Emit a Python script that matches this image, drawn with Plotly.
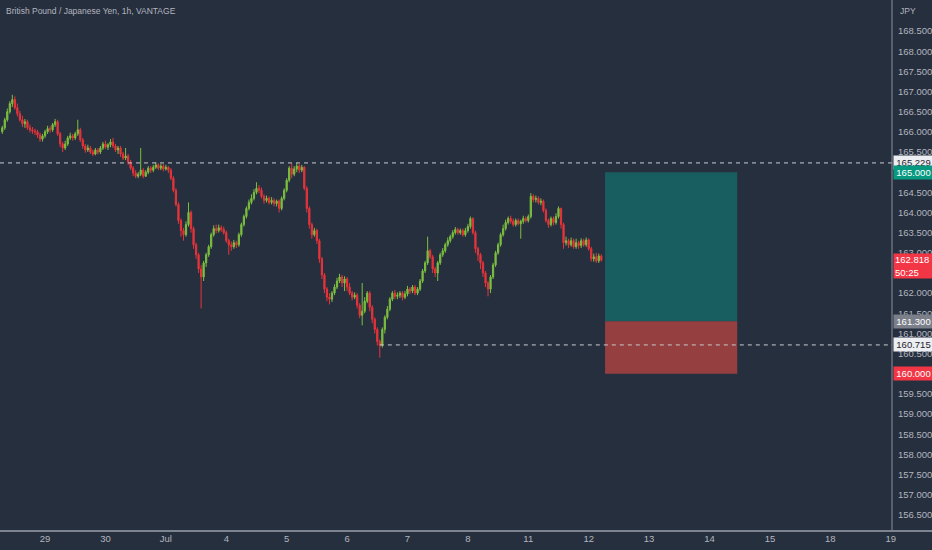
import plotly.graph_objects as go

BG = "#262f3e"
TEXT = "#b2b5be"
UP = "#7cbf3f"
DOWN = "#e8343b"
FONT = "Liberation Sans, Arial, sans-serif"

# hourly bars, index 0 = 29 Jun 00:00
bars = list(range(-17, 222))

opens = [
    166.00, 166.10, 166.30, 166.50, 166.70, 166.80, 166.60, 166.45, 166.30, 166.20,
    166.25, 166.10, 166.05, 166.02, 166.00, 165.92, 165.82, 165.90, 166.00, 166.08,
    166.05, 166.18, 166.25, 165.95, 165.70, 165.60, 165.70, 165.85, 165.90, 165.85,
    165.95, 166.05, 165.80, 165.65, 165.55, 165.60, 165.50, 165.45, 165.55, 165.50,
    165.60, 165.70, 165.62, 165.68, 165.75, 165.65, 165.55, 165.60, 165.45, 165.35,
    165.40, 165.25, 165.10, 164.98, 164.90, 164.95, 165.05, 164.90, 165.00, 165.10,
    165.05, 165.12, 165.18, 165.10, 165.15, 165.08, 165.12, 165.05, 164.85, 164.55,
    164.20, 163.80, 163.55, 163.45, 163.70, 164.00, 163.60, 163.20, 162.95, 162.60,
    162.40, 162.75, 162.95, 163.15, 163.45, 163.60, 163.55, 163.62, 163.58, 163.50,
    163.30, 163.20, 163.15, 163.25, 163.20, 163.45, 163.70, 163.90, 164.10, 164.25,
    164.35, 164.50, 164.60, 164.55, 164.40, 164.30, 164.35, 164.25, 164.30, 164.22,
    164.28, 164.10, 164.35, 164.55, 164.80, 165.10, 164.95, 165.08, 165.15, 165.05,
    165.12, 164.60, 164.10, 163.70, 163.45, 163.55, 163.30, 162.85, 162.45, 162.10,
    161.90, 161.85, 162.00, 162.15, 162.30, 162.40, 162.25, 162.35, 162.15, 162.00,
    161.90, 161.95, 161.70, 161.45, 161.55, 161.80, 162.00, 161.65, 161.35, 161.10,
    160.80, 160.70, 161.10, 161.40, 161.60, 161.85, 162.00, 161.92, 161.95, 162.00,
    161.90, 161.98, 162.10, 162.05, 162.15, 162.00, 162.10, 162.30, 162.55, 162.75,
    163.05, 162.90, 162.60, 162.50, 162.75, 162.95, 163.05, 163.20, 163.30, 163.40,
    163.50, 163.58, 163.50, 163.55, 163.45, 163.55, 163.65, 163.85, 163.50, 163.10,
    162.95, 162.75, 162.50, 162.25, 162.10, 162.40, 162.70, 163.00, 163.20, 163.45,
    163.60, 163.75, 163.85, 163.78, 163.70, 163.80, 163.72, 163.78, 163.85, 163.80,
    163.90, 164.40, 164.32, 164.35, 164.25, 164.28, 164.05, 163.80, 163.70, 163.85,
    163.75, 163.90, 164.10, 163.70, 163.25, 163.30, 163.20, 163.30, 163.15, 163.25,
    163.18, 163.30, 163.20, 163.32, 163.10, 162.85, 162.90, 162.80, 162.92,
]

closes = [
    166.10, 166.30, 166.50, 166.70, 166.80, 166.60, 166.45, 166.30, 166.20, 166.25,
    166.10, 166.05, 166.02, 166.00, 165.92, 165.82, 165.90, 166.00, 166.08, 166.05,
    166.18, 166.25, 165.95, 165.70, 165.60, 165.70, 165.85, 165.90, 165.85, 165.95,
    166.05, 165.80, 165.65, 165.55, 165.60, 165.50, 165.45, 165.55, 165.50, 165.60,
    165.70, 165.62, 165.68, 165.75, 165.65, 165.55, 165.60, 165.45, 165.35, 165.40,
    165.25, 165.10, 164.98, 164.90, 164.95, 165.05, 164.90, 165.00, 165.10, 165.05,
    165.12, 165.18, 165.10, 165.15, 165.08, 165.12, 165.05, 164.85, 164.55, 164.20,
    163.80, 163.55, 163.45, 163.70, 164.00, 163.60, 163.20, 162.95, 162.60, 162.40,
    162.75, 162.95, 163.15, 163.45, 163.60, 163.55, 163.62, 163.58, 163.50, 163.30,
    163.20, 163.15, 163.25, 163.20, 163.45, 163.70, 163.90, 164.10, 164.25, 164.35,
    164.50, 164.60, 164.55, 164.40, 164.30, 164.35, 164.25, 164.30, 164.22, 164.28,
    164.10, 164.35, 164.55, 164.80, 165.10, 164.95, 165.08, 165.15, 165.05, 165.12,
    164.60, 164.10, 163.70, 163.45, 163.55, 163.30, 162.85, 162.45, 162.10, 161.90,
    161.85, 162.00, 162.15, 162.30, 162.40, 162.25, 162.35, 162.15, 162.00, 161.90,
    161.95, 161.70, 161.45, 161.55, 161.80, 162.00, 161.65, 161.35, 161.10, 160.80,
    160.70, 161.10, 161.40, 161.60, 161.85, 162.00, 161.92, 161.95, 162.00, 161.90,
    161.98, 162.10, 162.05, 162.15, 162.00, 162.10, 162.30, 162.55, 162.75, 163.05,
    162.90, 162.60, 162.50, 162.75, 162.95, 163.05, 163.20, 163.30, 163.40, 163.50,
    163.58, 163.50, 163.55, 163.45, 163.55, 163.65, 163.85, 163.50, 163.10, 162.95,
    162.75, 162.50, 162.25, 162.10, 162.40, 162.70, 163.00, 163.20, 163.45, 163.60,
    163.75, 163.85, 163.78, 163.70, 163.80, 163.72, 163.78, 163.85, 163.80, 163.90,
    164.40, 164.32, 164.35, 164.25, 164.28, 164.05, 163.80, 163.70, 163.85, 163.75,
    163.90, 164.10, 163.70, 163.25, 163.30, 163.20, 163.30, 163.15, 163.25, 163.18,
    163.30, 163.20, 163.32, 163.10, 162.85, 162.90, 162.80, 162.92, 162.82,
]

highs = [
    166.15, 166.35, 166.58, 166.76, 166.92, 166.88, 166.70, 166.52, 166.40, 166.32,
    166.30, 166.18, 166.12, 166.08, 166.05, 165.98, 165.95, 166.05, 166.15, 166.15,
    166.22, 166.32, 166.30, 166.00, 165.75, 165.78, 165.90, 165.98, 165.95, 166.00,
    166.30, 166.10, 165.85, 165.70, 165.68, 165.65, 165.56, 165.60, 165.60, 165.65,
    165.75, 165.78, 165.72, 165.82, 165.85, 165.70, 165.65, 165.65, 165.50, 165.60,
    165.45, 165.30, 165.15, 165.05, 165.00, 165.60, 165.10, 165.05, 165.15, 165.15,
    165.18, 165.25, 165.22, 165.20, 165.20, 165.18, 165.15, 165.10, 164.90, 164.60,
    164.25, 163.85, 163.62, 163.78, 164.25, 164.05, 163.65, 163.25, 163.00, 162.70,
    162.80, 163.00, 163.20, 163.50, 163.68, 163.70, 163.70, 163.68, 163.65, 163.55,
    163.35, 163.28, 163.32, 163.30, 163.50, 163.75, 163.95, 164.15, 164.32, 164.45,
    164.58, 164.75, 164.68, 164.62, 164.45, 164.42, 164.40, 164.38, 164.35, 164.32,
    164.32, 164.40, 164.60, 164.85, 165.15, 165.22, 165.15, 165.23, 165.20, 165.18,
    165.15, 164.65, 164.15, 163.75, 163.62, 163.60, 163.35, 162.90, 162.50, 162.15,
    162.00, 162.05, 162.22, 162.38, 162.48, 162.45, 162.42, 162.40, 162.25, 162.05,
    162.02, 162.00, 161.75, 162.25, 161.90, 162.05, 162.05, 161.70, 161.40, 161.15,
    160.85, 161.15, 161.45, 161.68, 161.90, 162.05, 162.08, 162.02, 162.05, 162.05,
    162.05, 162.18, 162.15, 162.20, 162.20, 162.15, 162.35, 162.60, 162.80, 163.40,
    163.10, 162.95, 162.65, 162.80, 163.00, 163.12, 163.25, 163.38, 163.45, 163.56,
    163.64, 163.62, 163.60, 163.60, 163.62, 163.72, 163.90, 163.88, 163.55, 163.15,
    163.00, 162.80, 162.55, 162.30, 162.45, 162.75, 163.05, 163.25, 163.50, 163.70,
    163.82, 163.90, 163.92, 163.85, 163.85, 163.85, 163.82, 163.92, 163.90, 163.95,
    164.48, 164.45, 164.42, 164.40, 164.35, 164.32, 164.10, 163.85, 163.90, 163.90,
    163.98, 164.15, 164.12, 163.75, 163.40, 163.35, 163.38, 163.35, 163.35, 163.30,
    163.36, 163.35, 163.38, 163.36, 163.15, 162.98, 163.00, 162.98, 162.96,
]

lows = [
    165.95, 166.05, 166.25, 166.45, 166.62, 166.55, 166.38, 166.25, 166.12, 166.10,
    166.05, 165.98, 165.95, 165.92, 165.85, 165.75, 165.76, 165.85, 165.95, 165.98,
    166.00, 166.12, 165.90, 165.62, 165.50, 165.55, 165.65, 165.80, 165.78, 165.80,
    165.90, 165.75, 165.58, 165.48, 165.50, 165.45, 165.40, 165.42, 165.44, 165.45,
    165.55, 165.58, 165.55, 165.62, 165.60, 165.50, 165.45, 165.38, 165.30, 165.30,
    165.18, 165.05, 164.90, 164.85, 164.85, 164.90, 164.85, 164.88, 164.95, 164.98,
    165.00, 165.08, 165.05, 165.05, 165.02, 165.04, 164.98, 164.80, 164.50, 164.15,
    163.72, 163.40, 163.30, 163.40, 163.65, 163.50, 163.10, 162.85, 162.50, 161.62,
    162.30, 162.65, 162.90, 163.10, 163.40, 163.48, 163.50, 163.52, 163.45, 163.25,
    162.95, 163.05, 163.10, 163.12, 163.15, 163.40, 163.65, 163.85, 164.05, 164.20,
    164.30, 164.45, 164.48, 164.35, 164.22, 164.25, 164.20, 164.20, 164.15, 164.15,
    164.00, 164.05, 164.30, 164.50, 164.75, 164.85, 164.90, 165.00, 164.98, 165.00,
    164.55, 164.00, 163.60, 163.35, 163.40, 163.22, 162.75, 162.35, 162.00, 161.80,
    161.72, 161.78, 161.95, 162.10, 162.25, 162.15, 162.05, 162.05, 161.95, 161.82,
    161.85, 161.62, 161.38, 161.20, 161.50, 161.75, 161.55, 161.25, 161.00, 160.70,
    160.40, 160.65, 161.00, 161.35, 161.55, 161.80, 161.85, 161.85, 161.88, 161.82,
    161.85, 161.92, 161.98, 162.00, 161.95, 161.95, 162.05, 162.25, 162.50, 162.70,
    162.85, 162.50, 162.40, 162.30, 162.70, 162.90, 163.00, 163.15, 163.25, 163.35,
    163.45, 163.45, 163.45, 163.40, 163.40, 163.50, 163.60, 163.45, 163.00, 162.80,
    162.60, 162.40, 162.15, 161.92, 162.00, 162.35, 162.65, 162.95, 163.15, 163.40,
    163.55, 163.70, 163.72, 163.65, 163.65, 163.68, 163.35, 163.72, 163.75, 163.75,
    163.85, 164.25, 164.25, 164.20, 164.18, 164.00, 163.75, 163.62, 163.65, 163.68,
    163.70, 163.85, 163.60, 163.10, 163.18, 163.12, 163.15, 163.10, 163.10, 163.10,
    163.12, 163.15, 163.15, 163.05, 162.78, 162.78, 162.75, 162.75, 162.78,
]

day_ticks = [0, 24, 48, 72, 96, 120, 144, 168, 192, 216, 240, 264, 288, 312, 336]
day_labels = ["29", "30", "Jul", "4", "5", "6", "7", "8", "11", "12", "13", "14", "15", "18", "19"]

price_ticks = [156.5, 157.0, 157.5, 158.0, 158.5, 159.0, 159.5, 160.0, 160.5, 161.0, 161.5, 162.0,
               162.5, 163.0, 163.5, 164.0, 164.5, 165.0, 165.5, 166.0, 166.5, 167.0, 167.5, 168.0,
               168.5]

# long position tool
target_price = 165.000
entry_price = 161.300
stop_price = 160.000
box_start, box_end = 222.5, 275

last_price = 162.818
countdown = "50:25"
swing_high = 165.229
swing_low = 160.715
swing_low_bar = 133

x_range = [-17.9, 336.5]
y_range = [156.10, 169.27]

fig = go.Figure(
    go.Candlestick(
        x=bars, open=opens, high=highs, low=lows, close=closes,
        increasing=dict(line=dict(color=UP, width=1), fillcolor=UP),
        decreasing=dict(line=dict(color=DOWN, width=1), fillcolor=DOWN),
        whiskerwidth=0,
        hoverinfo="skip",
    )
)

# position box
fig.add_shape(type="rect", x0=box_start, x1=box_end, y0=entry_price, y1=target_price,
              fillcolor="#185e60", line_width=0, layer="below")
fig.add_shape(type="rect", x0=box_start, x1=box_end, y0=stop_price, y1=entry_price,
              fillcolor="#963f40", line_width=0, layer="below")

# horizontal levels
fig.add_shape(type="line", xref="paper", x0=0, x1=1, y0=swing_high, y1=swing_high,
              line=dict(color="#c9ccd3", width=1, dash="4px,4px"))
fig.add_shape(type="line", x0=swing_low_bar, x1=x_range[1], y0=swing_low, y1=swing_low,
              line=dict(color="#c9ccd3", width=1, dash="4px,4px"))

# pane borders
fig.add_shape(type="line", xref="paper", yref="paper", x0=1, x1=1, y0=0, y1=1,
              line=dict(color="#8a909b", width=1))
fig.add_shape(type="line", xref="paper", yref="paper", x0=0, x1=932 / 892, y0=0, y1=0,
              line=dict(color="#7d8490", width=2))

fig.add_annotation(text="British Pound / Japanese Yen, 1h, VANTAGE", xref="paper", yref="paper",
                   x=0, y=1, xanchor="left", yanchor="top", xshift=4, yshift=-4,
                   showarrow=False, font=dict(size=8.5, color=TEXT, family=FONT))
fig.add_annotation(text="JPY", xref="paper", yref="paper", x=1, y=1, xanchor="left",
                   yanchor="top", xshift=6, yshift=-4, showarrow=False,
                   font=dict(size=8.5, color=TEXT, family=FONT))

price_tags = [
    (swing_high, f"{swing_high:.3f}", "#eceef1", "#1e222d"),
    (target_price, f"{target_price:.3f}", "#089981", "#ffffff"),
    (entry_price, f"{entry_price:.3f}", "#7b7f8a", "#ffffff"),
    (swing_low, f"{swing_low:.3f}", "#eceef1", "#1e222d"),
    (stop_price, f"{stop_price:.3f}", "#f23645", "#ffffff"),
]
for price, label, bg, fg in price_tags:
    fig.add_annotation(text=label, xref="paper", x=1, y=price, xanchor="left", yanchor="middle",
                       xshift=1, showarrow=False, bgcolor=bg, width=37, height=11,
                       font=dict(size=9.5, color=fg, family=FONT))
fig.add_annotation(text=f"{last_price:.3f}<br>{countdown}", xref="paper", x=1, y=last_price,
                   xanchor="left", yanchor="top", xshift=1, yshift=7, showarrow=False,
                   bgcolor="#f23645", width=37, height=22, align="left",
                   font=dict(size=9.5, color="#ffffff", family=FONT))

fig.update_layout(
    width=932, height=550,
    margin=dict(l=0, r=40, t=0, b=19),
    paper_bgcolor=BG, plot_bgcolor=BG,
    showlegend=False,
    font=dict(family=FONT, color=TEXT, size=9.5),
    xaxis=dict(range=x_range, tickvals=day_ticks, ticktext=day_labels, showgrid=False,
               zeroline=False, showline=False, ticks="", rangeslider=dict(visible=False),
               tickfont=dict(size=9.5, color=TEXT)),
    yaxis=dict(side="right", range=y_range, tickvals=price_ticks, tickformat=".3f",
               showgrid=False, zeroline=False, showline=False, ticks="",
               ticklabelstandoff=5, tickfont=dict(size=9.5, color=TEXT)),
)

fig.write_html("out.html", config={"displayModeBar": False},
               post_script="document.body.style.margin='0';")
